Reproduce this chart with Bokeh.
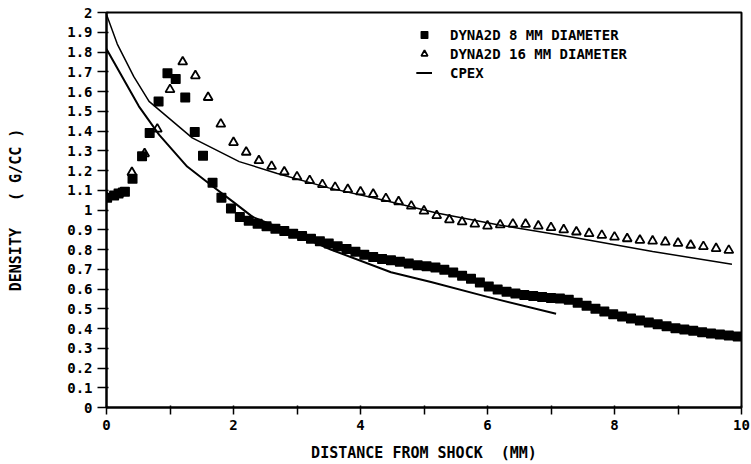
from bokeh.plotting import figure
from bokeh.models import Range1d, FixedTicker, Legend, LegendItem
from bokeh.embed import file_html
from bokeh.resources import INLINE

# ---- data ----
dyna8_x = [0.01, 0.12, 0.19, 0.29, 0.41, 0.56, 0.68, 0.82, 0.96, 1.09, 1.24, 1.39,
           1.52, 1.67, 1.81, 1.96,
           2.10, 2.24, 2.38, 2.52, 2.66, 2.80, 2.94, 3.08, 3.22, 3.36, 3.50, 3.64,
           3.78, 3.92, 4.06, 4.20, 4.34, 4.48, 4.62, 4.76, 4.90, 5.04, 5.18, 5.32,
           5.46, 5.60, 5.74, 5.88, 6.02, 6.16, 6.30, 6.44, 6.58, 6.72, 6.86, 7.00,
           7.14, 7.28, 7.42, 7.56, 7.70, 7.84, 7.98, 8.12, 8.26, 8.40, 8.54, 8.68,
           8.82, 8.96, 9.10, 9.24, 9.38, 9.52, 9.66, 9.80, 9.94]
dyna8_d = [1.062, 1.074, 1.083, 1.092, 1.158, 1.272, 1.390, 1.549, 1.692, 1.663, 1.569, 1.395,
           1.275, 1.138, 1.062, 1.008,
           0.965, 0.945, 0.930, 0.918, 0.905, 0.894, 0.880, 0.868, 0.855, 0.842, 0.830, 0.816,
           0.802, 0.788, 0.773, 0.762, 0.752, 0.745, 0.738, 0.729, 0.720, 0.715, 0.709, 0.697,
           0.683, 0.667, 0.652, 0.633, 0.613, 0.597, 0.586, 0.577, 0.570, 0.565, 0.560, 0.555,
           0.552, 0.545, 0.531, 0.515, 0.500, 0.486, 0.472, 0.461, 0.451, 0.441, 0.431, 0.421,
           0.411, 0.401, 0.395, 0.389, 0.381, 0.375, 0.370, 0.365, 0.360]

dyna16_x = [0.0, 0.2, 0.4, 0.6, 0.8, 1.0, 1.2, 1.4, 1.6, 1.8, 2.0, 2.2, 2.4, 2.6, 2.8,
            3.0, 3.2, 3.4, 3.6, 3.8, 4.0, 4.2, 4.4, 4.6, 4.8, 5.0, 5.2, 5.4, 5.6, 5.8,
            6.0, 6.2, 6.4, 6.6, 6.8, 7.0, 7.2, 7.4, 7.6, 7.8, 8.0, 8.2, 8.4, 8.6, 8.8,
            9.0, 9.2, 9.4, 9.6, 9.8]
dyna16_d = [1.065, 1.085, 1.190, 1.285, 1.410, 1.610, 1.750, 1.680, 1.570, 1.435, 1.342,
            1.293, 1.250, 1.221, 1.193, 1.168, 1.149, 1.129, 1.115, 1.104, 1.092, 1.080,
            1.058, 1.042, 1.020, 0.995, 0.972, 0.951, 0.940, 0.929, 0.919, 0.925, 0.929,
            0.928, 0.919, 0.911, 0.900, 0.889, 0.881, 0.872, 0.863, 0.855, 0.847, 0.843,
            0.838, 0.832, 0.822, 0.815, 0.805, 0.796]

cpex8_x = [0.0, 0.51, 0.83, 1.27, 1.67, 2.0, 2.3, 3.0, 3.53, 4.48, 5.11, 6.0, 7.08]
cpex8_d = [1.815, 1.525, 1.380, 1.220, 1.120, 1.040, 0.965, 0.875, 0.800, 0.685, 0.635, 0.560, 0.475]

cpex16_x = [0.0, 0.17, 0.43, 0.67, 1.35, 2.09, 2.69, 3.5, 4.32, 5.2, 6.16, 7.3, 8.6, 9.85]
cpex16_d = [1.990, 1.840, 1.675, 1.550, 1.365, 1.245, 1.185, 1.112, 1.053, 0.985, 0.925, 0.865, 0.790, 0.725]

y_ticks = [0, 0.1, 0.2, 0.3, 0.4, 0.5, 0.6, 0.7, 0.8, 0.9, 1, 1.1, 1.2, 1.3, 1.4,
           1.5, 1.6, 1.7, 1.8, 1.9, 2]
y_tick_labels = ["0", "0.1", "0.2", "0.3", "0.4", "0.5", "0.6", "0.7", "0.8", "0.9", "1",
                 "1.1", "1.2", "1.3", "1.4", "1.5", "1.6", "1.7", "1.8", "1.9", "2"]
x_ticks = [0, 2, 4, 6, 8, 10]
x_minor_ticks = [1, 3, 5, 7, 9]
x_tick_labels = ["0", "2", "4", "6", "8", "10"]

legend_labels = ["DYNA2D 8 MM DIAMETER", "DYNA2D 16 MM DIAMETER", "CPEX"]
x_title = "DISTANCE FROM SHOCK\u00a0\u00a0(MM)"
y_title = "DENSITY\u00a0\u00a0\u00a0(\u00a0G/CC\u00a0)"

FONT = "DejaVu Sans Mono"

p = figure(width=751, height=464, output_backend="svg", toolbar_location=None,
           x_range=Range1d(0, 10), y_range=Range1d(0, 2),
           min_border_left=106, min_border_right=10, min_border_top=12,
           min_border_bottom=55)
p.background_fill_color = "white"
p.border_fill_color = "white"
p.outline_line_color = "black"
p.outline_line_width = 2
p.xgrid.visible = False
p.ygrid.visible = False

r_tri = p.scatter(dyna16_x, dyna16_d, marker="triangle", size=9, fill_color=None,
                  line_color="black", line_width=1.8)
r_sq = p.scatter(dyna8_x, dyna8_d, marker="square", size=8.5, fill_color="black",
                 line_color="black", line_width=1.5, line_join="round")
r_c8 = p.line(cpex8_x, cpex8_d, line_color="black", line_width=2)
r_c16 = p.line(cpex16_x, cpex16_d, line_color="black", line_width=1.5)

# axes
for ax in (p.xaxis[0], p.yaxis[0]):
    ax.axis_line_color = "black"
    ax.axis_line_width = 2
    ax.major_tick_line_color = "black"
    ax.major_tick_line_width = 1.5
    ax.minor_tick_line_color = "black"
    ax.minor_tick_line_width = 1.5
    ax.major_label_text_font = FONT
    ax.major_label_text_font_style = "bold"
    ax.major_label_text_font_size = "14px"
    ax.major_label_text_color = "black"
    ax.axis_label_text_font = FONT
    ax.axis_label_text_font_style = "bold"
    ax.axis_label_text_font_size = "15px"
    ax.axis_label_text_color = "black"

p.xaxis.ticker = FixedTicker(ticks=x_ticks, minor_ticks=x_minor_ticks)
p.xaxis.major_label_overrides = dict(zip(x_ticks, x_tick_labels))
p.xaxis.major_tick_out = 7
p.xaxis.major_tick_in = 2
p.xaxis.minor_tick_out = 7
p.xaxis.minor_tick_in = 2
p.xaxis.major_label_standoff = 5
p.xaxis.axis_label = x_title
p.xaxis.axis_label_standoff = 11

p.yaxis.ticker = FixedTicker(ticks=y_ticks, minor_ticks=[])
p.yaxis.major_label_overrides = dict(zip(y_ticks, y_tick_labels))
p.yaxis.major_tick_out = 9
p.yaxis.major_tick_in = 2
p.yaxis.minor_tick_out = 0
p.yaxis.minor_tick_in = 0
p.yaxis.major_label_standoff = 5
p.yaxis.axis_label = y_title
p.yaxis.axis_label_standoff = 39

legend = Legend(items=[LegendItem(label=legend_labels[0], renderers=[r_sq]),
                       LegendItem(label=legend_labels[1], renderers=[r_tri]),
                       LegendItem(label=legend_labels[2], renderers=[r_c8, r_c16])],
                location=(310, 325))
legend.border_line_alpha = 0
legend.background_fill_alpha = 0
legend.padding = 0
legend.margin = 0
legend.spacing = 0
legend.label_height = 19
legend.glyph_height = 19
legend.glyph_width = 16
legend.label_standoff = 18
legend.label_text_font = FONT
legend.label_text_font_style = "bold"
legend.label_text_font_size = "14px"
legend.label_text_color = "black"
p.add_layout(legend)

open("out.html", "w").write(file_html(p, INLINE))
